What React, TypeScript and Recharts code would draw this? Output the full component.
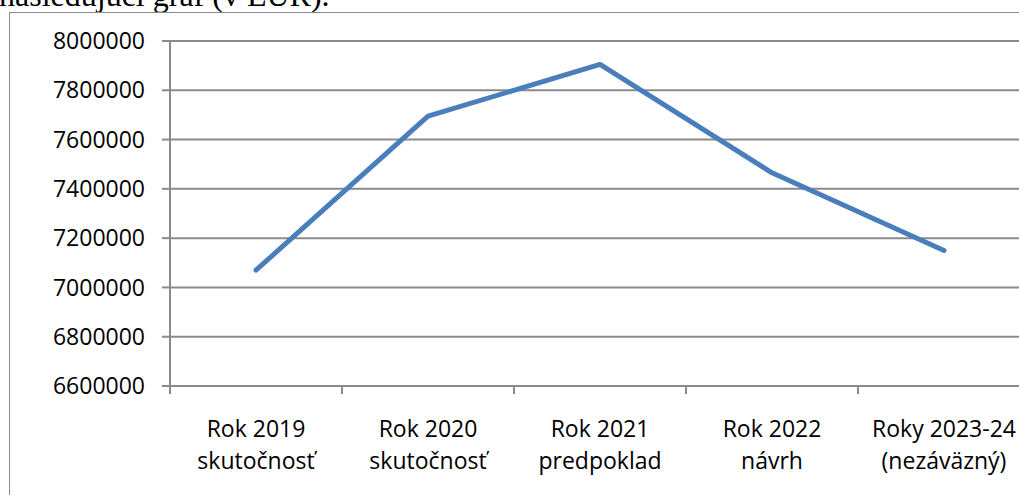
import React from 'react';
import { LineChart, Line, XAxis, YAxis, CartesianGrid } from 'recharts';

const years = ['Rok 2019', 'Rok 2020', 'Rok 2021', 'Rok 2022', 'Roky 2023-24'];
const notes = ['skutočnosť', 'skutočnosť', 'predpoklad', 'návrh', '(nezáväzný)'];
const amounts = [7070000, 7695000, 7905000, 7465000, 7150000];
const yTicks = [6600000, 6800000, 7000000, 7200000, 7400000, 7600000, 7800000, 8000000];

const data = years.map((year, i) => ({ year, note: notes[i], amount: amounts[i] }));

const CHART_W = 1100;
const CHART_H = 495;
const MARGIN = { top: 41, right: 70, left: 0, bottom: 0 };
const Y_AXIS_W = 170;
const X_AXIS_H = 109;
const PLOT_W = CHART_W - MARGIN.left - MARGIN.right - Y_AXIS_W;
const HALF_BAND = PLOT_W / years.length / 2;

const GRAY = '#8a8a8a';
const FONT = '"Open Sans", "Noto Sans", sans-serif';

// excel style category axis: ticks sit between categories, labels on two lines
const CategoryTick = (props: any) => {
  const { x, y, payload, index } = props;
  const last = index === years.length - 1;
  return (
    <g>
      <line x1={x - HALF_BAND} y1={y - 8} x2={x - HALF_BAND} y2={y} stroke={GRAY} strokeWidth={2} />
      {last && <line x1={x + HALF_BAND} y1={y - 8} x2={x + HALF_BAND} y2={y} stroke={GRAY} strokeWidth={2} />}
      <text x={x} y={y + 43} textAnchor="middle" fill="#000" fontSize={23} fontFamily={FONT}>
        {payload.value}
      </text>
      <text x={x} y={y + 75} textAnchor="middle" fill="#000" fontSize={23} fontFamily={FONT}>
        {notes[index]}
      </text>
    </g>
  );
};

const App: React.FC = () => {
  return (
    <div
      style={{
        position: 'fixed',
        left: 0,
        top: 0,
        width: 1019,
        height: 495,
        overflow: 'hidden',
        background: '#fff',
      }}
    >
      {/* tail of the paragraph above the chart */}
      <div
        style={{
          position: 'absolute',
          left: -1,
          top: -21,
          fontFamily: '"Liberation Serif", "Times New Roman", serif',
          fontSize: 32,
          lineHeight: '32px',
          whiteSpace: 'nowrap',
          color: '#000',
        }}
      >
        nasledujúci graf (v EUR).
      </div>

      {/* chart frame */}
      <div
        style={{
          position: 'absolute',
          left: 9,
          top: 12,
          width: 1200,
          height: 800,
          border: `1.5px solid ${GRAY}`,
        }}
      />

      <div style={{ position: 'absolute', left: 0, top: 0 }}>
        <LineChart width={CHART_W} height={CHART_H} data={data} margin={MARGIN}>
          <CartesianGrid vertical={false} stroke={GRAY} strokeWidth={2} />
          <XAxis
            dataKey="year"
            scale="band"
            height={X_AXIS_H}
            interval={0}
            tickLine={false}
            tickSize={8}
            tickMargin={0}
            axisLine={{ stroke: GRAY, strokeWidth: 2 }}
            tick={<CategoryTick />}
          />
          <YAxis
            width={Y_AXIS_W}
            domain={[6600000, 8000000]}
            ticks={yTicks}
            interval={0}
            tickSize={8}
            tickMargin={17}
            tickLine={{ stroke: GRAY, strokeWidth: 2 }}
            axisLine={{ stroke: GRAY, strokeWidth: 2 }}
            tick={{ fill: '#000', fontSize: 23, fontFamily: FONT }}
            tickFormatter={(v: number) => String(v)}
          />
          <Line
            type="linear"
            dataKey="amount"
            stroke="#4a7ebb"
            strokeWidth={5}
            strokeLinecap="round"
            strokeLinejoin="round"
            dot={false}
            activeDot={false}
            isAnimationActive={false}
          />
        </LineChart>
      </div>
    </div>
  );
};

export default App;
